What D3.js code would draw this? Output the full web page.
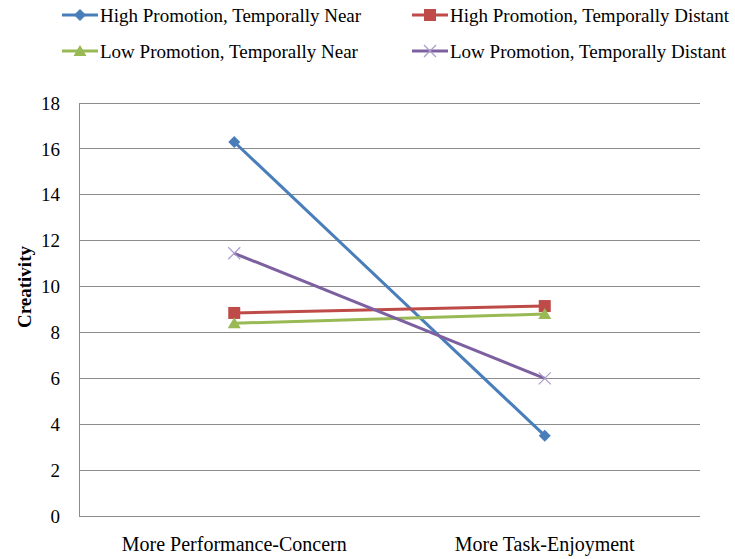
<!DOCTYPE html>
<html>
<head>
<meta charset="utf-8">
<script src="https://cdn.jsdelivr.net/npm/d3@7"></script>
<style>
  body { margin: 0; background: #fff; }
  text { font-family: "Liberation Serif", "Times New Roman", serif; fill: #000; }
</style>
</head>
<body>
<div id="chart"></div>
<script>
let w = 735
let h = 559
let margin = {top: 103, right: 35, bottom: 43, left: 79}

let categories = ["More Performance-Concern", "More Task-Enjoyment"]
let seriesNames = [
  "High Promotion, Temporally Near",
  "High Promotion, Temporally Distant",
  "Low Promotion, Temporally Near",
  "Low Promotion, Temporally Distant"
]
let highNear = [16.3, 3.5]
let highDistant = [8.85, 9.15]
let lowNear = [8.4, 8.8]
let lowDistant = [11.45, 6.0]
let yTicks = [0, 2, 4, 6, 8, 10, 12, 14, 16, 18]

let colors = ["#4a7ebb", "#be4b48", "#98b954", "#7d60a0"]
let markers = ["diamond", "square", "triangle", "x"]

let series = [highNear, highDistant, lowNear, lowDistant].map((vals, i) => ({
  name: seriesNames[i],
  color: colors[i],
  marker: markers[i],
  values: vals.map((v, j) => ({cat: categories[j], value: v}))
}))

let svg = d3.select("#chart")
  .append("svg")
  .attr("width", w)
  .attr("height", h)

let x = d3.scaleBand()
  .domain(categories)
  .range([margin.left, w - margin.right])

let y = d3.scaleLinear()
  .domain([0, 18])
  .range([h - margin.bottom, margin.top])

// gridlines
svg.append("g")
  .selectAll("line")
  .data(yTicks.slice(1))
  .join("line")
  .attr("x1", margin.left)
  .attr("x2", w - margin.right)
  .attr("y1", d => y(d))
  .attr("y2", d => y(d))
  .attr("stroke", "#8c8c8c")
  .attr("stroke-width", 1)
  .attr("shape-rendering", "crispEdges")

// axes lines
let axisColor = "#8c8c8c"
svg.append("line")
  .attr("x1", margin.left).attr("x2", margin.left)
  .attr("y1", y(0)).attr("y2", y(18))
  .attr("stroke", axisColor).attr("shape-rendering", "crispEdges")
svg.append("line")
  .attr("x1", margin.left).attr("x2", w - margin.right)
  .attr("y1", y(0)).attr("y2", y(0))
  .attr("stroke", axisColor).attr("shape-rendering", "crispEdges")

// y tick labels
svg.append("g")
  .selectAll("text")
  .data(yTicks)
  .join("text")
  .attr("x", margin.left - 19)
  .attr("y", d => y(d))
  .attr("dy", "0.35em")
  .attr("text-anchor", "end")
  .style("font-size", "19px")
  .text(d => d)

// x labels
svg.append("g")
  .selectAll("text")
  .data(categories)
  .join("text")
  .attr("x", d => x(d) + x.bandwidth() / 2)
  .attr("y", y(0) + 35)
  .attr("text-anchor", "middle")
  .style("font-size", "20px")
  .text(d => d)

// y title
svg.append("text")
  .attr("transform", `translate(24, 287) rotate(-90)`)
  .attr("text-anchor", "middle")
  .attr("dy", "0.35em")
  .style("font-size", "19px")
  .style("font-weight", "bold")
  .text("Creativity")

let line = d3.line()
  .x(d => x(d.cat) + x.bandwidth() / 2)
  .y(d => y(d.value))

let drawMarker = (g, type, color, cx, cy) => {
  if (type === "diamond") {
    g.append("path")
      .attr("d", `M${cx},${cy - 6}L${cx + 6},${cy}L${cx},${cy + 6}L${cx - 6},${cy}Z`)
      .attr("fill", color)
  } else if (type === "square") {
    g.append("rect")
      .attr("x", cx - 6).attr("y", cy - 6)
      .attr("width", 12).attr("height", 12)
      .attr("fill", color)
  } else if (type === "triangle") {
    g.append("path")
      .attr("d", `M${cx},${cy - 6}L${cx + 6.5},${cy + 5}L${cx - 6.5},${cy + 5}Z`)
      .attr("fill", color)
  } else {
    g.append("path")
      .attr("d", `M${cx - 6},${cy - 6}L${cx + 6},${cy + 6}M${cx - 6},${cy + 6}L${cx + 6},${cy - 6}`)
      .attr("stroke", "#a99bc9")
      .attr("stroke-width", 1.2)
      .attr("fill", "none")
  }
}

// series lines
series.forEach(s => {
  let g = svg.append("g")
  g.append("path")
    .datum(s.values)
    .attr("d", line)
    .attr("fill", "none")
    .attr("stroke", s.color)
    .attr("stroke-width", 3)
  s.values.forEach(d => {
    drawMarker(g, s.marker, s.color, x(d.cat) + x.bandwidth() / 2, y(d.value))
  })
})

// legend
let legendPos = [[62, 15], [412, 15], [62, 51], [412, 51]]
series.forEach((s, i) => {
  let [lx, ly] = legendPos[i]
  let g = svg.append("g")
  g.append("line")
    .attr("x1", lx).attr("x2", lx + 36)
    .attr("y1", ly).attr("y2", ly)
    .attr("stroke", s.color)
    .attr("stroke-width", 3)
  drawMarker(g, s.marker, s.color, lx + 18, ly)
  g.append("text")
    .attr("x", lx + 38)
    .attr("y", ly)
    .attr("dy", "0.35em")
    .style("font-size", "19px")
    .text(s.name)
})
</script>
</body>
</html>
